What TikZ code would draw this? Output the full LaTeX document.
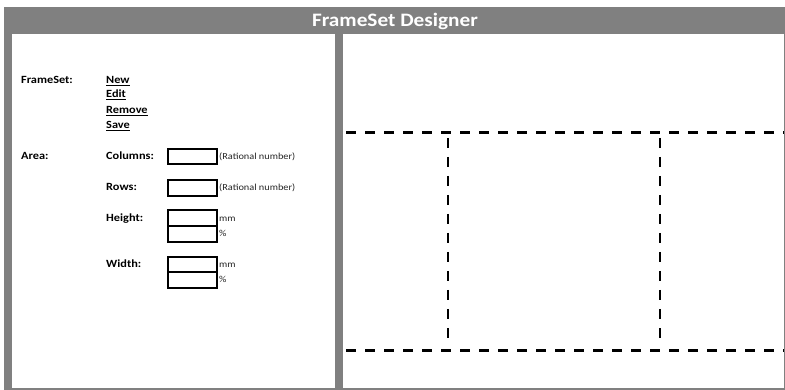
\documentclass[tikz,border=0pt]{standalone}
\usepackage{fontspec}
\setmainfont{Carlito}[FakeStretch=1.12]
\definecolor{framegray}{HTML}{808080}
\definecolor{hintgray}{HTML}{262626}
\begin{document}
\begin{tikzpicture}[x=1pt,y=-1pt,
  label/.style={anchor=base west,inner sep=0pt,font=\bfseries\fontsize{11}{13}\selectfont},
  link/.style={label},
  hint/.style={anchor=base west,inner sep=0pt,text=hintgray,font=\fontsize{9.2}{11}\selectfont},
  field/.style={draw=black,line width=1.8pt,minimum width=49pt,minimum height=15.5pt,inner sep=0pt},
  hguide/.style={line width=3pt,dash pattern=on 10pt off 9pt,dash phase=15pt},
  vguide/.style={line width=2.5pt,dash pattern=on 10pt off 9pt}]
\useasboundingbox (0,0) rectangle (785,390);
% window frame, title bar and the two panels
\fill[framegray] (4,7) rectangle (785,390);
\fill[white] (12,34) rectangle (335,388);
\fill[white] (343,34) rectangle (784,388);
\node[text=white,anchor=base,inner sep=0pt,font=\bfseries\fontsize{19}{22}\selectfont] (title) at (395,26.5) {FrameSet Designer};
% frameset actions
\node[label] (fs) at (21,84) {FrameSet:};
\node[link] (new) at (106,84) {\underline{New}};
\node[link] (edit) at (106,98) {\underline{Edit}};
\node[link] (remove) at (106,113.5) {\underline{Remove}};
\node[link] (save) at (106,128.5) {\underline{Save}};
% area properties
\node[label] (area) at (21,160) {Area:};
\node[label] (cols) at (106,160) {Columns:};
\node[label] (rows) at (106,191) {Rows:};
\node[label] (height) at (106,222) {Height:};
\node[label] (width) at (106,268) {Width:};
\node[field] (colbox) at (192.5,156.5) {};
\node[field] (rowbox) at (192.5,188) {};
\node[field] (hbox1) at (192.5,218) {};
\node[field] (hbox2) at (192.5,234) {};
\node[field] (wbox1) at (192.5,264.5) {};
\node[field] (wbox2) at (192.5,280) {};
\node[hint] (colhint) at (219,160) {(Rational number)};
\node[hint] (rowhint) at (219,191) {(Rational number)};
\node[hint] (hmm) at (219,222) {mm};
\node[hint] (hpct) at (219,237) {\%};
\node[hint] (wmm) at (219,268) {mm};
\node[hint] (wpct) at (219,283) {\%};
% frame layout preview
\draw[hguide] (342,133) -- (784,133);
\draw[hguide] (342,350) -- (784,350);
\draw[vguide] (448,138) -- (448,338);
\draw[vguide] (660,138) -- (660,338);
\end{tikzpicture}
\end{document}
